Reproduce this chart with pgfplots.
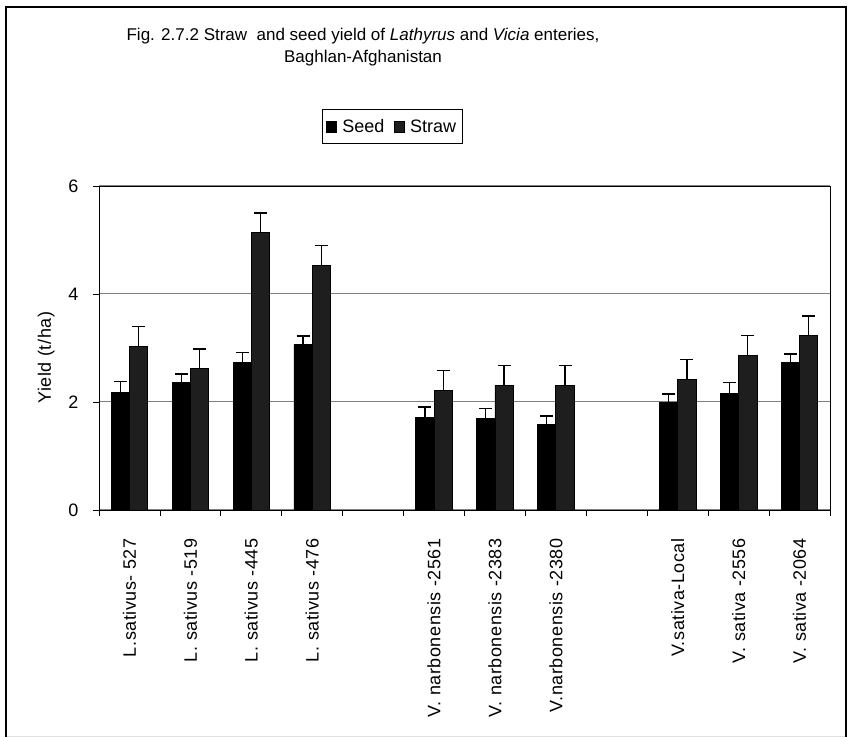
\documentclass[border=0pt]{standalone}
\usepackage{fontspec}
\setmainfont{Liberation Sans}
\newfontfamily\spaced[LetterSpace=3]{Liberation Sans}
\usepackage{pgfplots}
\pgfplotsset{compat=1.18}

\definecolor{strawgray}{RGB}{30,30,30}
\definecolor{gridgray}{RGB}{128,128,128}

\pgfplotsset{
  sq/.style={legend image code/.code={\draw[##1,draw=black,line width=0.6pt] (1pt,-5.5pt) rectangle (11pt,5.5pt);}}
}

\begin{document}
\begin{tikzpicture}
\begin{axis}[
    scale only axis,
    width=731pt, height=324pt,
    ybar=0pt,
    bar width=0.3,
    xmin=-0.5, xmax=11.5,
    ymin=0, ymax=6,
    ytick={0,2,4,6},
    ymajorgrids,
    major grid style={gridgray, line width=1pt},
    xtick={0,1,2,3,5,6,7,9,10,11},
    xticklabels={L.sativus- 527, L. sativus -519, L. sativus -445, L. sativus -476,
      V. narbonensis -2561, V. narbonensis -2383, V.narbonensis -2380,
      V.sativa-Local, V. sativa -2556, V. sativa -2064},
    minor xtick={-0.5,0.5,...,11.5},
    major x tick style={draw=none},
    minor x tick style={black, line width=0.8pt},
    tick align=outside,
    tick pos=left,
    minor tick length=6pt,
    major tick length=6pt,
    y tick style={black, line width=0.8pt},
    axis line style={black, line width=0.9pt},
    xticklabel style={font=\spaced\fontsize{18}{20}\selectfont, rotate=90, anchor=east},
    xticklabel shift=19pt,
    yticklabel style={font=\fontsize{18}{20}\selectfont, xshift=-11pt},
    /pgf/number format/assume math mode=true,
    ylabel={\spaced\fontsize{18}{20}\selectfont Yield (t/ha)},
    ylabel style={at={(axis description cs:-0.056,0.47)}, anchor=south},
    legend style={at={(0.4015,1.1836)}, anchor=center, draw=black, line width=0.8pt,
      font=\fontsize{18}{20}\selectfont, legend columns=-1,
      inner xsep=3pt, inner ysep=7.5pt,
      nodes={inner xsep=3pt},
      /tikz/every odd column/.append style={column sep=3pt},
      /tikz/every even column/.append style={column sep=6pt}},
    error bars/y dir=plus,
    error bars/y explicit,
    error bars/error bar style={black, line width=1.3pt},
    error bars/error mark options={black, line width=1.3pt, mark size=6.5pt, rotate=90},
]
% Seed
\addplot[sq, fill=black, draw=black, line width=0.8pt] coordinates {
  (0,2.18) +- (0,0.20)
  (1,2.36) +- (0,0.16)
  (2,2.73) +- (0,0.19)
  (3,3.06) +- (0,0.16)
  (5,1.72) +- (0,0.19)
  (6,1.69) +- (0,0.19)
  (7,1.58) +- (0,0.16)
  (9,1.99) +- (0,0.16)
  (10,2.15) +- (0,0.21)
  (11,2.73) +- (0,0.16)
};
% Straw
\addplot[sq, fill=strawgray, draw=black, line width=0.8pt] coordinates {
  (0,3.03) +- (0,0.37)
  (1,2.62) +- (0,0.36)
  (2,5.14) +- (0,0.36)
  (3,4.53) +- (0,0.37)
  (5,2.22) +- (0,0.36)
  (6,2.31) +- (0,0.37)
  (7,2.31) +- (0,0.37)
  (9,2.42) +- (0,0.37)
  (10,2.86) +- (0,0.37)
  (11,3.23) +- (0,0.36)
};
\legend{Seed, Straw}
\end{axis}
% title
\node[align=center, font=\fontsize{17}{22.5}\selectfont] at (264pt,463pt)
  {Fig. 2.7.2 Straw\ \ and seed yield of \textit{Lathyrus} and \textit{Vicia} enteries,\\ Baghlan-Afghanistan};
% outer frame
\draw[gray!25, line width=1pt] (-93pt,-227pt) -- (747pt,-227pt);
\draw[black, line width=1.6pt] (-93pt,-227pt) -- (-93pt,503pt) -- (747pt,503pt) -- (747pt,-227pt);
\pgfresetboundingbox
\path[use as bounding box] (-99pt,-228pt) rectangle (750pt,510pt);
\end{tikzpicture}
\end{document}
